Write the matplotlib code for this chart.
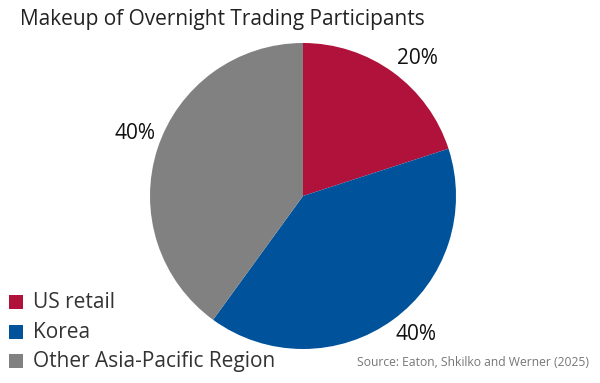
import matplotlib
matplotlib.use("Agg")
import numpy as np
import matplotlib.pyplot as plt
from matplotlib.patches import Rectangle

categories = ["US retail", "Korea", "Other Asia-Pacific Region"]
shares = [20, 40, 40]
colors = ["#B0123B", "#00529B", "#818181"]
title = "Makeup of Overnight Trading Participants"
source = "Source: Eaton, Shkilko and Werner (2025)"

plt.rcParams['font.family'] = ['Open Sans', 'DejaVu Sans']

W, H = 600, 383
fig = plt.figure(figsize=(W / 100, H / 100), dpi=100)
fig.patch.set_facecolor("white")

cx, cy, r = 303, 196, 153
ax = fig.add_axes([(cx - r) / W, (H - cy - r) / H, 2 * r / W, 2 * r / H])
wedges, texts, autotexts = ax.pie(
    shares, colors=colors, startangle=90, counterclock=False, radius=1,
    autopct=lambda p: f"{p:.0f}%", pctdistance=1.17,
    wedgeprops=dict(linewidth=0), textprops=dict(fontsize=15, color="#111111"))
# nudge labels slightly along the circle (label placement style)
angle_nudge = [-3.6, 3.3, -2.3]
for w, t, d in zip(wedges, autotexts, angle_nudge):
    mid = np.deg2rad((w.theta1 + w.theta2) / 2 + d)
    t.set_position((1.17 * np.cos(mid), 1.17 * np.sin(mid)))
ax.set_xlim(-1, 1)
ax.set_ylim(-1, 1)
ax.set_aspect("equal")
ax.axis("off")

fig.text(20 / W, 1 - 19 / H, title, fontsize=15, color="#222222", va="center", ha="left")

ys = [302, 332, 361]
for cat, col, y in zip(categories, colors, ys):
    fig.patches.append(Rectangle((9 / W, 1 - (y + 7) / H), 14 / W, 14 / H,
                                 transform=fig.transFigure, facecolor=col, edgecolor="none"))
    fig.text(33 / W, 1 - y / H, cat, fontsize=15, color="#333333", va="center", ha="left")

fig.text(589 / W, 1 - 362 / H, source, fontsize=8.7, color="#777777", va="center", ha="right")

fig.savefig("out.png", dpi=100, facecolor="white")
